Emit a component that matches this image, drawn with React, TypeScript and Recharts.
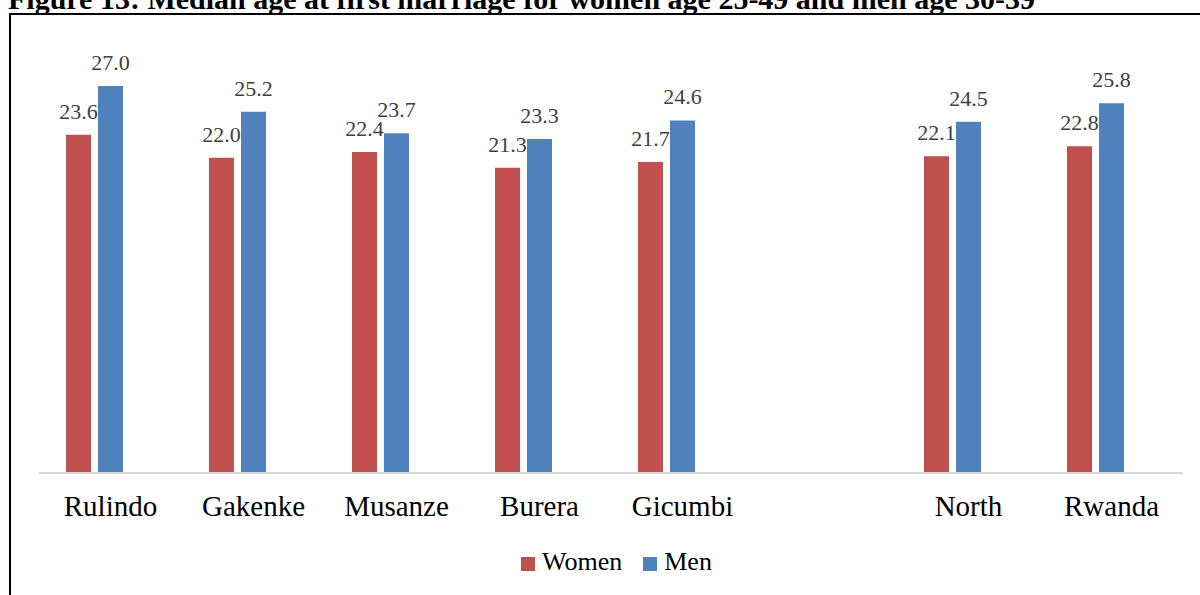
import { BarChart, Bar, XAxis, YAxis, LabelList } from 'recharts';

const districts = ['Rulindo', 'Gakenke', 'Musanze', 'Burera', 'Gicumbi', '', 'North', 'Rwanda'];
const women = [23.6, 22.0, 22.4, 21.3, 21.7, null, 22.1, 22.8];
const men = [27.0, 25.2, 23.7, 23.3, 24.6, null, 24.5, 25.8];
const seriesNames = ['Women', 'Men'];

const data = districts.map((name, i) => ({ name, Women: women[i], Men: men[i], spacer: null }));

const RED = '#C0504D';
const BLUE = '#4F81BD';
const FONT = '"Liberation Serif", "Times New Roman", serif';

const fmt = (v: any) => (v == null ? '' : Number(v).toFixed(1));

function LegendBox() {
  const colors = [RED, BLUE];
  return (
    <div style={{ position: 'absolute', left: 521, top: 549, display: 'flex', fontFamily: FONT, fontSize: 26, color: '#000' }}>
      {seriesNames.map((name, i) => (
        <div key={name} style={{ display: 'flex', alignItems: 'flex-end', marginRight: i === 0 ? 21 : 0, lineHeight: '26px' }}>
          <span style={{ display: 'inline-block', width: 14, height: 14, background: colors[i], marginRight: 7, marginBottom: 4 }} />
          <span>{name}</span>
        </div>
      ))}
    </div>
  );
}

export default function App() {
  return (
    <div style={{ position: 'absolute', left: 0, top: 0, width: 1200, height: 595, overflow: 'hidden', background: '#fff' }}>
      <div style={{ position: 'absolute', left: 8, top: -16, fontFamily: FONT, fontWeight: 'bold', fontSize: 30, lineHeight: '30px', whiteSpace: 'nowrap', color: '#000' }}>
        Figure 13: Median age at first marriage for women age 25-49 and men age 30-39
      </div>
      <div style={{ position: 'absolute', left: 9, top: 13, width: 1300, height: 700, borderLeft: '2px solid #000', borderTop: '2px solid #000' }} />
      <div style={{ position: 'absolute', left: 0, top: 0 }}>
        <BarChart
          width={1200}
          height={595}
          data={data}
          margin={{ top: 43, right: 17, bottom: 92, left: 39 }}
          barGap={7}
          barCategoryGap={27}
        >
          <YAxis hide domain={[0, 30]} />
          <XAxis
            dataKey="name"
            interval={0}
            tickLine={false}
            tickMargin={16}
            axisLine={{ stroke: '#d9d9d9', strokeWidth: 2 }}
            tick={{ fill: '#000', fontSize: 29, fontFamily: FONT }}
          />
          <Bar dataKey="Women" fill={RED} isAnimationActive={false}>
            <LabelList dataKey="Women" position="top" offset={16} formatter={fmt} style={{ fill: '#404040', fontSize: 22, fontFamily: FONT }} />
          </Bar>
          <Bar dataKey="Men" fill={BLUE} isAnimationActive={false}>
            <LabelList dataKey="Men" position="top" offset={16} formatter={fmt} style={{ fill: '#404040', fontSize: 22, fontFamily: FONT }} />
          </Bar>
          <Bar dataKey="spacer" fill="none" legendType="none" isAnimationActive={false} />
        </BarChart>
      </div>
      <LegendBox />
    </div>
  );
}
